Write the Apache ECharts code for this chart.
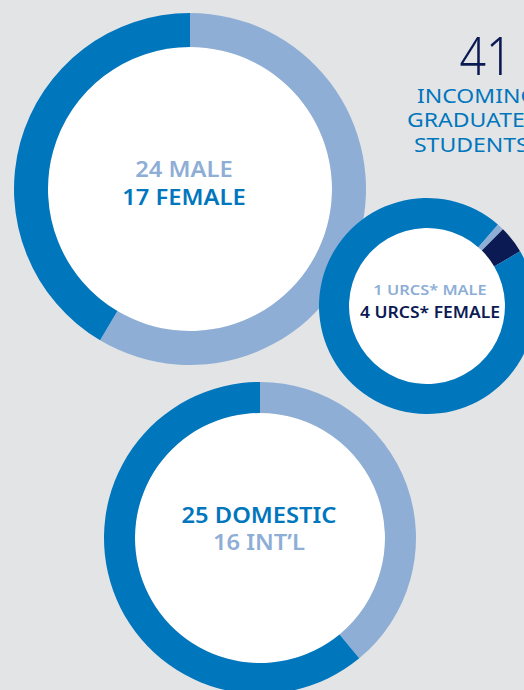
<!DOCTYPE html>
<html lang="en">
<head>
    <meta charset="UTF-8">
    <title>Incoming graduate students</title>
    <script src="https://cdn.jsdelivr.net/npm/echarts@6/dist/echarts.min.js"></script>
    <style>
    html, body { margin: 0; padding: 0; background: #e3e4e6; }
    #chart { width: 524px; height: 690px; }
    </style>
</head>
<body>
    <div id="chart"></div>
    <script>
        // data
        var totalStudents = 41;
        var titleLines = ['INCOMING', 'GRADUATE', 'STUDENTS'];

        var genderNames = ['MALE', 'FEMALE'];
        var genderValues = [24, 17];

        var urcsNames = ['URCS* MALE', 'URCS* FEMALE', 'OTHER'];
        var urcsValues = [1, 4, 92];

        var originNames = ['INT\u2019L', 'DOMESTIC'];
        var originValues = [16, 25];

        var LIGHT = '#8eaed6';
        var MID = '#0076bd';
        var NAVY = '#0c1a54';
        var FONT = '"Noto Sans", sans-serif';

        function ring(center, radius, names, values, colors, start) {
            return [{
                type: 'pie', silent: true, center: center, radius: [0, radius[0]],
                label: { show: false }, labelLine: { show: false },
                data: [{ value: 1, itemStyle: { color: '#fff' } }]
            }, {
                type: 'pie', silent: true, center: center, radius: radius,
                startAngle: start, avoidLabelOverlap: false,
                label: { show: false }, labelLine: { show: false },
                data: values.map(function (v, i) {
                    return { name: names[i], value: v, itemStyle: { color: colors[i] } };
                })
            }];
        }

        // gotham-ish text: widen noto a bit
        function txt(x, y, s, size, color, weight, sx, align) {
            return {
                type: 'text', x: x, y: y, z: 10, scaleX: sx || 1.13,
                style: {
                    text: s, fill: color, font: (weight || 600) + ' ' + size + 'px ' + FONT,
                    textAlign: align || 'center', textVerticalAlign: 'middle'
                }
            };
        }

        var chart = echarts.init(document.getElementById('chart'), null, { renderer: 'svg' });
        var series = [].concat(
            ring([190, 189], [142, 176], genderNames, genderValues, [LIGHT, MID], 90),
            ring([427, 306], [78, 108], urcsNames, urcsValues, [LIGHT, NAVY, MID], 49),
            ring([260, 538], [125, 156], originNames, originValues, [LIGHT, MID], 90)
        );

        var graphics = [
            txt(486, 54, String(totalStudents), 54, NAVY, 300, 0.86),
            txt(184, 169, genderValues[0] + ' ' + genderNames[0], 21, LIGHT),
            txt(184, 197, genderValues[1] + ' ' + genderNames[1], 21, MID),
            txt(430, 289, urcsValues[0] + ' ' + urcsNames[0], 14.5, LIGHT),
            txt(430, 312, urcsValues[1] + ' ' + urcsNames[1], 15.5, NAVY),
            txt(259, 515, originValues[1] + ' ' + originNames[1], 21, MID),
            txt(259, 542, originValues[0] + ' ' + originNames[0], 21, LIGHT)
        ];
        var titleX = [417, 407, 414];
        titleLines.forEach(function (s, i) {
            graphics.push(txt(titleX[i], 95 + i * 24.5, s, 20, MID, 400, 1.15, 'left'));
        });

        chart.setOption({
            backgroundColor: '#e3e4e6',
            animation: false,
            series: series,
            graphic: graphics
        });
    </script>
</body>
</html>
